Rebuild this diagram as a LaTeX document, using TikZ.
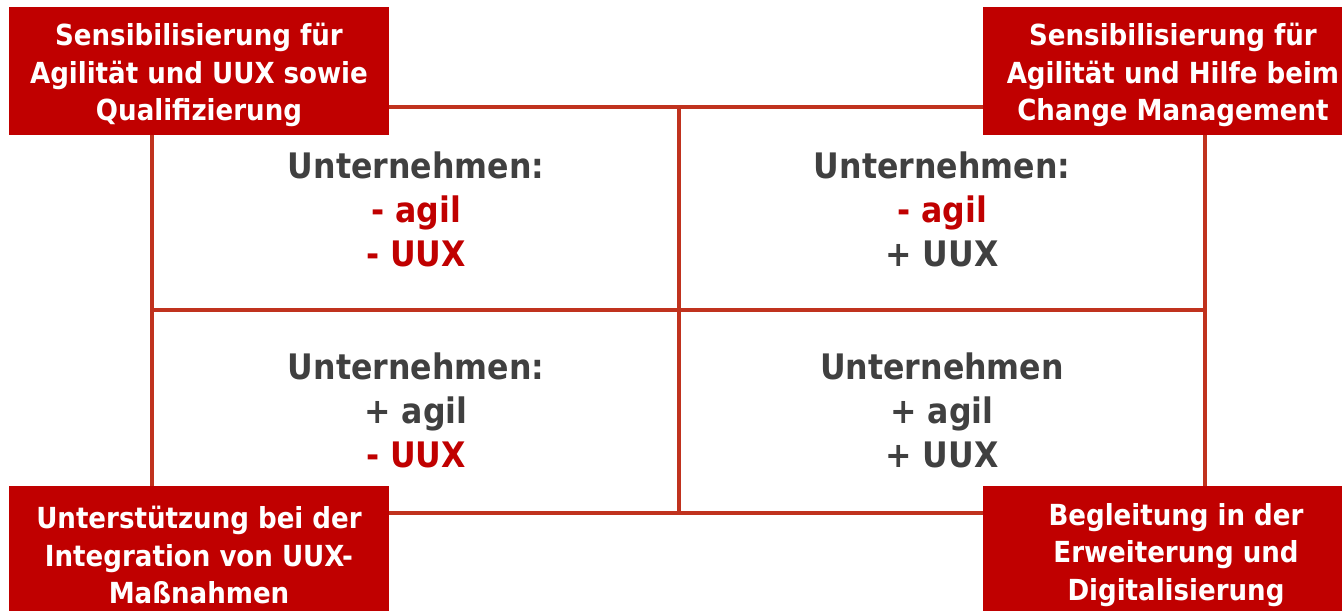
\documentclass[tikz,border=0pt]{standalone}
\usepackage{fontspec}
\setmainfont{DejaVu Sans Condensed}
\begin{document}
\begin{tikzpicture}[
    x=0.02cm, y=-0.02cm,
    cornerbox/.style={rectangle, fill=boxred, text=white, align=center, minimum width=7.6cm, inner sep=0pt,
        font=\fontsize{16.5}{21.3}\selectfont\bfseries},
    cellbox/.style={align=center, text=textgray, font=\fontsize{20}{25}\selectfont\bfseries},
    gridline/.style={draw=linered, line width=2.3pt}
]
\definecolor{boxred}{HTML}{C00000}
\definecolor{linered}{HTML}{C0321E}
\definecolor{textgray}{HTML}{404040}
\useasboundingbox (0,0) rectangle (1342,611);

% Raster
\coordinate (nw) at (152,107);
\coordinate (se) at (1205,513);
\coordinate (top) at (679,107);
\coordinate (bottom) at (679,513);
\coordinate (left) at (152,310);
\coordinate (right) at (1205,310);
\draw[gridline] (nw) rectangle (se);
\draw[gridline] (top) -- (bottom);
\draw[gridline] (left) -- (right);

% Quadranten
\node[cellbox] (tlcell) at (416,209) {Unternehmen:\\\textcolor{boxred}{- agil}\\\textcolor{boxred}{- UUX}};
\node[cellbox] (trcell) at (942,209) {Unternehmen:\\\textcolor{boxred}{- agil}\\+ UUX};
\node[cellbox] (blcell) at (416,410) {Unternehmen:\\+ agil\\\textcolor{boxred}{- UUX}};
\node[cellbox] (brcell) at (942,410) {Unternehmen\\+ agil\\+ UUX};

% Ecken
\node[cornerbox, minimum height=2.56cm] (tlbox) at (199,71) {};
\node[cornerbox, minimum height=2.56cm] (trbox) at (1173,71) {};
\node[cornerbox, minimum height=2.64cm] (blbox) at (199,552) {};
\node[cornerbox, minimum height=2.64cm, minimum width=7.72cm] (brbox) at (1176,552) {};
\node[cornerbox, fill=none] at (199,75) {Sensibilisierung für\\Agilität und UUX sowie\\Qualifizierung};
\node[cornerbox, fill=none] at (1173,75) {Sensibilisierung für\\Agilität und Hilfe beim\\Change Management};
\node[cornerbox, fill=none] at (199,555) {Unterstützung bei der\\Integration von UUX-\\Maßnahmen};
\node[cornerbox, fill=none] at (1176,555) {Begleitung in der\\Erweiterung und\\Digitalisierung};

\end{tikzpicture}
\end{document}
